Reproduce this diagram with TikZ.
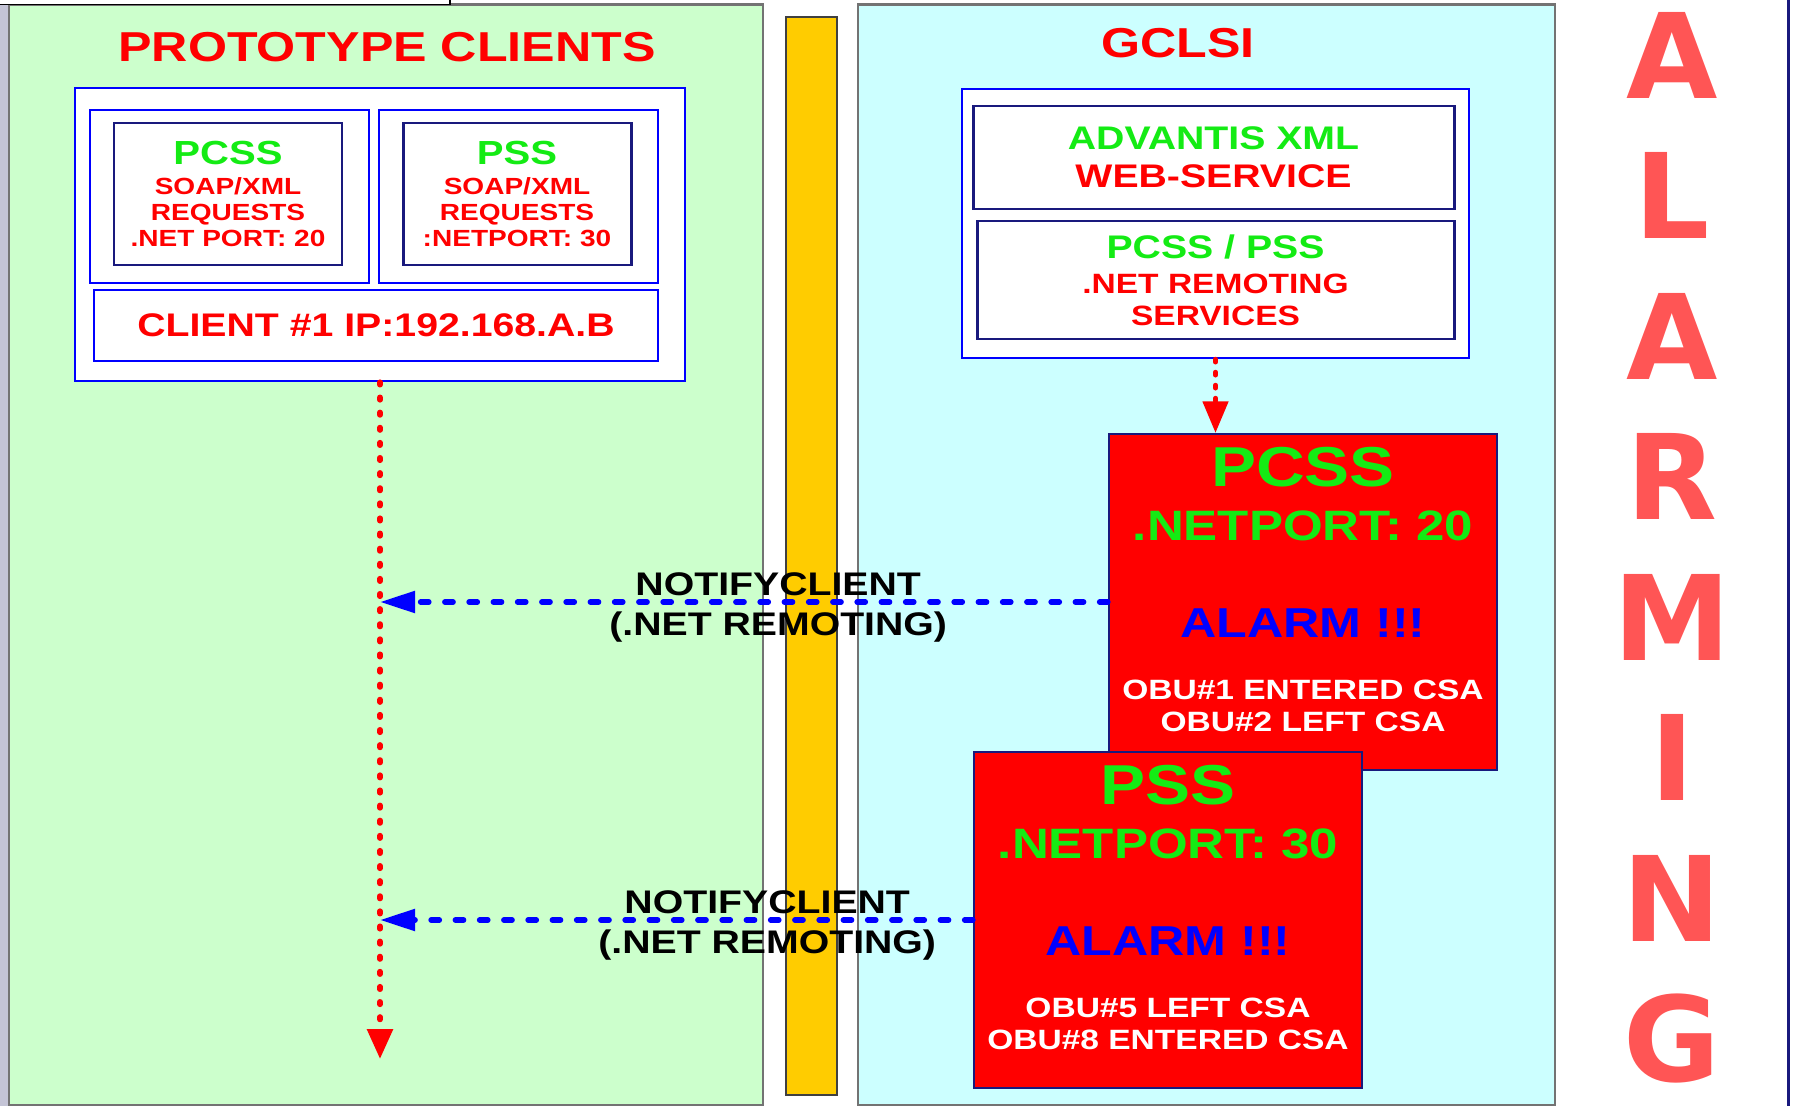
\documentclass[tikz,border=0pt]{standalone}
\usepackage{fontspec}
\setmainfont{Liberation Sans}[FakeStretch=1.2]
\newfontfamily\tallfont{DejaVu Sans}
\usetikzlibrary{arrows.meta,positioning}
\definecolor{clientgreen}{RGB}{204,255,204}
\definecolor{servercyan}{RGB}{204,255,255}
\definecolor{fenceyellow}{RGB}{255,204,0}
\definecolor{litegreen}{RGB}{20,235,20}
\definecolor{boxnavy}{RGB}{25,25,125}
\definecolor{alarmred}{RGB}{255,85,85}
\definecolor{edgegray}{RGB}{115,115,115}
\definecolor{sidegray}{RGB}{196,196,214}

\tikzset{
  panel/.style={draw=edgegray, line width=0.6pt},
  wrapbox/.style={draw=blue, fill=white, line width=0.7pt, inner sep=0pt},
  corebox/.style={draw=boxnavy, fill=white, line width=0.85pt, inner sep=0pt, align=center, text=red},
  alarmbox/.style={draw=boxnavy, fill=red, line width=0.6pt, minimum width=3.88cm, minimum height=3.36cm},
  boxtext/.style={inner sep=0pt, align=center},
  reddots/.style={red, line width=1.6pt, line cap=round, dash pattern=on 0.7pt off 3.6pt},
  shortdots/.style={red, line width=1.4pt, line cap=round, dash pattern=on 0.8pt off 2.9pt},
  bluedash/.style={blue, line width=1.5pt, line cap=round, dash pattern=on 2.4pt off 4.5pt},
  notify/.style={font=\bfseries\fontsize{9.3}{11.4}\selectfont, align=center, text=black, yshift=-1.5pt},
}

\begin{document}
\begin{tikzpicture}[y=-1cm]
    \useasboundingbox (0,0) rectangle (17.93,11.06);

    % background panels and the fence between them
    \fill[sidegray] (0,0) rectangle (0.08,11.06);
    \draw[panel, fill=clientgreen] (0.09,0.045) rectangle (7.63,11.05);
    \draw[panel, fill=servercyan] (8.58,0.045) rectangle (15.55,11.05);
    \draw[draw=black!75, fill=fenceyellow, line width=0.5pt] (7.86,0.17) rectangle (8.37,10.95);
    \draw[black, line width=0.4pt, fill=white] (-0.1,-0.1) rectangle (4.50,0.043);
    \draw[boxnavy, line width=0.6pt] (17.885,0) -- (17.885,11.06);

    \node[font=\bfseries\fontsize{11.9}{12}\selectfont, text=red] (ttlClients) at (3.87,0.47) {PROTOTYPE CLIENTS};
    \node[font=\bfseries\fontsize{11.9}{12}\selectfont, text=red] (ttlGclsi) at (11.78,0.43) {GCLSI};

    % client side
    \node[wrapbox, minimum width=6.10cm, minimum height=2.93cm] (clientOuter) at (3.80,2.345) {};
    \node[wrapbox, minimum width=2.79cm, minimum height=1.73cm] (pcssWrap) at (2.295,1.965) {};
    \node[wrapbox, minimum width=2.79cm, minimum height=1.73cm] (pssWrap) at (5.185,1.965) {};
    \node[corebox, minimum width=2.28cm, minimum height=1.42cm, font=\bfseries\fontsize{6.65}{7.5}\selectfont] (pcssCli) at (2.28,1.94)
        {{\fontsize{9.5}{9.5}\selectfont\color{litegreen}PCSS}\\[1pt]SOAP/XML\\REQUESTS\\.NET PORT: 20};
    \node[corebox, minimum width=2.28cm, minimum height=1.42cm, font=\bfseries\fontsize{6.65}{7.5}\selectfont] (pssCli) at (5.17,1.94)
        {{\fontsize{9.5}{9.5}\selectfont\color{litegreen}PSS}\\[1pt]SOAP/XML\\REQUESTS\\:NETPORT: 30};
    \node[wrapbox, minimum width=5.64cm, minimum height=0.71cm, font=\bfseries\fontsize{9.3}{10}\selectfont, text=red] (clientIp) at (3.76,3.255) {CLIENT \#1 IP:192.168.A.B};

    % server side
    \node[wrapbox, minimum width=5.07cm, minimum height=2.69cm] (gclsiOuter) at (12.155,2.235) {};
    \node[corebox, minimum width=4.81cm, minimum height=1.03cm, font=\bfseries\fontsize{9.3}{10.8}\selectfont] (advantis) at (12.135,1.575)
        {{\color{litegreen}ADVANTIS XML}\\WEB-SERVICE};
    \node[corebox, minimum width=4.77cm, minimum height=1.18cm, font=\bfseries\fontsize{7.95}{9.1}\selectfont] (remoting) at (12.155,2.80)
        {{\fontsize{9.3}{9.1}\selectfont\color{litegreen}PCSS / PSS}\\[0.9pt].NET REMOTING\\SERVICES};

    \node[alarmbox] (alarmPcss) at (13.03,6.02) {};
    \node[boxtext, below=0.14cm of alarmPcss.north, font=\bfseries\fontsize{16}{16}\selectfont, text=litegreen] (pcssName) {PCSS};
    \node[boxtext, below=0.77cm of alarmPcss.north, font=\bfseries\fontsize{12.1}{12}\selectfont, text=litegreen] (pcssPort) {.NETPORT: 20};
    \node[boxtext, below=1.75cm of alarmPcss.north, font=\bfseries\fontsize{11.9}{12}\selectfont, text=blue] (pcssAlarm) {ALARM !!!};
    \node[boxtext, below=2.46cm of alarmPcss.north, font=\bfseries\fontsize{7.95}{9.1}\selectfont, text=white] (pcssObu) {OBU\#1 ENTERED CSA\\OBU\#2 LEFT CSA};

    \node[alarmbox] (alarmPss) at (11.68,9.20) {};
    \node[boxtext, below=0.14cm of alarmPss.north, font=\bfseries\fontsize{16}{16}\selectfont, text=litegreen] (pssName) {PSS};
    \node[boxtext, below=0.77cm of alarmPss.north, font=\bfseries\fontsize{12.1}{12}\selectfont, text=litegreen] (pssPort) {.NETPORT: 30};
    \node[boxtext, below=1.75cm of alarmPss.north, font=\bfseries\fontsize{11.9}{12}\selectfont, text=blue] (pssAlarm) {ALARM !!!};
    \node[boxtext, below=2.46cm of alarmPss.north, font=\bfseries\fontsize{7.95}{9.1}\selectfont, text=white] (pssObu) {OBU\#5 LEFT CSA\\OBU\#8 ENTERED CSA};

    % connectors
    \coordinate (lineEnd) at (3.80,10.59);
    \draw[reddots, -{Triangle[length=8.5pt,width=7.1pt]}] (clientOuter.south) -- (lineEnd);
    \draw[shortdots, -{Triangle[length=9pt,width=7.1pt]}] (gclsiOuter.south) -- (gclsiOuter.south |- alarmPcss.north);
    \draw[bluedash, -{Triangle[length=10pt,width=6pt]}] (alarmPcss.west) -- (alarmPcss.west -| lineEnd)
        node[notify, pos=0.453] (notifyPcss) {NOTIFYCLIENT\\(.NET REMOTING)};
    \draw[bluedash, -{Triangle[length=10pt,width=6pt]}] (alarmPss.west) -- (alarmPss.west -| lineEnd)
        node[notify, pos=0.347] (notifyPss) {NOTIFYCLIENT\\(.NET REMOTING)};

    % vertical banner
    \foreach \ch [count=\i from 0] in {A,L,A,R,M,I,N,G}
        \node[font=\tallfont\bfseries\fontsize{33.6}{34}\selectfont, text=alarmred] (banner\i) at (16.72,{0.55+1.405*\i}) {\ch};
\end{tikzpicture}
\end{document}
